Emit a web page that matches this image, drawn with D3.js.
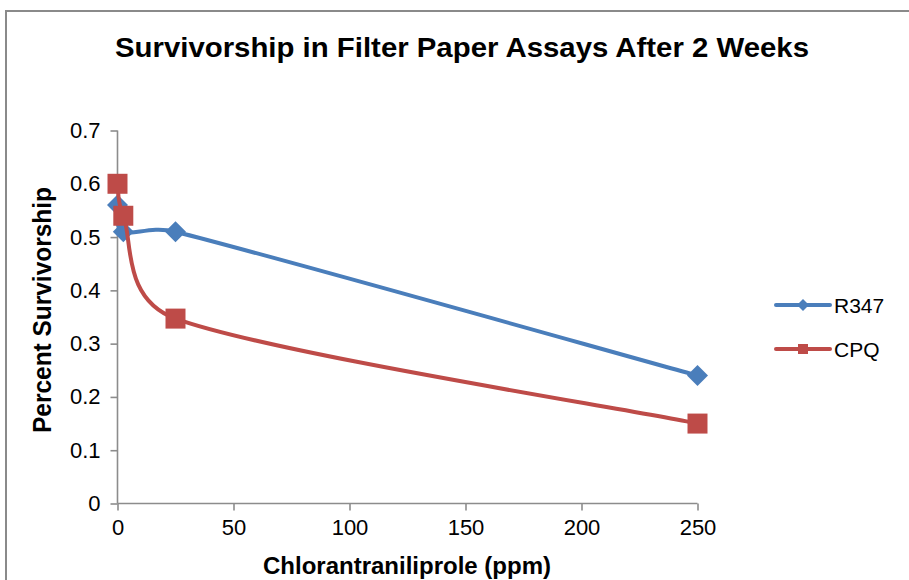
<!DOCTYPE html>
<html>
<head>
<meta charset="utf-8">
<script src="https://cdn.jsdelivr.net/npm/d3@7"></script>
<style>
  html, body { margin: 0; padding: 0; background: #fff; }
  svg { display: block; font-family: Arial, "Liberation Sans", sans-serif; }
</style>
</head>
<body>
<svg id="chart" width="909" height="580"></svg>
<script>
// Chlorantraniliprole dose (ppm) and survivorship per strain
const doses = [0, 2.5, 25, 250];
const r347 = [0.56, 0.51, 0.51, 0.24];
const cpq = [0.60, 0.54, 0.347, 0.15];
const seriesNames = ["R347", "CPQ"];
const seriesColors = ["#4A7EBB", "#BE4B48"];
const xTicks = [0, 50, 100, 150, 200, 250];
const yTicks = [0, 0.1, 0.2, 0.3, 0.4, 0.5, 0.6, 0.7];

const titleText = "Survivorship in Filter Paper Assays After 2 Weeks";
const xLabel = "Chlorantraniliprole (ppm)";
const yLabel = "Percent Survivorship";

// Smoothed line: cubic Bezier through every point, tangent from the
// neighbouring points (1/6 tension) with handles capped at half a segment.
function smoothCurve(context) {
  let pts = [];
  return {
    areaStart() {}, areaEnd() {},
    lineStart() { pts = []; },
    point(x, y) { pts.push([+x, +y]); },
    lineEnd() {
      const n = pts.length;
      if (!n) return;
      context.moveTo(pts[0][0], pts[0][1]);
      if (n === 1) return;
      const dist = (a, b) => Math.hypot(b[0] - a[0], b[1] - a[1]);
      const handle = (i, sign, segLen) => {
        const prev = pts[Math.max(0, i - 1)];
        const next = pts[Math.min(n - 1, i + 1)];
        let hx = (next[0] - prev[0]) / 6, hy = (next[1] - prev[1]) / 6;
        const len = Math.hypot(hx, hy), cap = segLen * 0.5;
        if (len > cap && len > 0) { hx *= cap / len; hy *= cap / len; }
        return [pts[i][0] + sign * hx, pts[i][1] + sign * hy];
      };
      for (let i = 0; i < n - 1; i++) {
        const seg = dist(pts[i], pts[i + 1]);
        const c1 = handle(i, 1, seg);
        const c2 = handle(i + 1, -1, seg);
        context.bezierCurveTo(c1[0], c1[1], c2[0], c2[1], pts[i + 1][0], pts[i + 1][1]);
      }
    }
  };
}

const svg = d3.select("#chart");

// outer chart frame
svg.append("path")
  .attr("d", "M6,580 V11 H909")
  .attr("fill", "none")
  .attr("stroke", "#8a8a8a")
  .attr("stroke-width", 2);

const x = d3.scaleLinear().domain([0, 250]).range([117.5, 697.5]);
const y = d3.scaleLinear().domain([0, 0.7]).range([503.5, 130.5]);

const axisColor = "#8c8c8c";

const gx = svg.append("g")
  .attr("transform", `translate(0,${y(0)})`)
  .call(d3.axisBottom(x).tickValues(xTicks).tickSize(7).tickSizeOuter(0).tickPadding(9)
    .tickFormat(d3.format("d")));
const gy = svg.append("g")
  .attr("transform", `translate(${x(0)},0)`)
  .call(d3.axisLeft(y).tickValues(yTicks).tickSize(7).tickSizeOuter(0).tickPadding(10)
    .tickFormat(d => d === 0 ? "0" : d3.format(".1f")(d)));

[gx, gy].forEach(g => {
  g.select(".domain").attr("stroke", axisColor).attr("stroke-width", 1.6);
  g.selectAll(".tick line").attr("stroke", axisColor).attr("stroke-width", 1.6);
  g.selectAll(".tick text")
    .attr("fill", "#000")
    .attr("font-size", 22)
    .attr("font-family", "Arial, 'Liberation Sans', sans-serif");
});
// axis lines span only the plotted range
gy.select(".domain").attr("d", `M0,${y(0.7)}V${y(0)}`);
gx.select(".domain").attr("d", `M${x(0)},0H${x(250)}`);

// titles
svg.append("text")
  .attr("x", 462).attr("y", 57)
  .attr("text-anchor", "middle")
  .attr("font-size", 28).attr("font-weight", "bold")
  .attr("textLength", 694).attr("lengthAdjust", "spacingAndGlyphs")
  .text(titleText);

svg.append("text")
  .attr("x", 407).attr("y", 574)
  .attr("text-anchor", "middle")
  .attr("font-size", 23).attr("font-weight", "bold")
  .attr("textLength", 288).attr("lengthAdjust", "spacingAndGlyphs")
  .text(xLabel);

svg.append("text")
  .attr("transform", "translate(51,310) rotate(-90)")
  .attr("text-anchor", "middle")
  .attr("font-size", 25).attr("font-weight", "bold")
  .attr("textLength", 246).attr("lengthAdjust", "spacingAndGlyphs")
  .text(yLabel);

// series
const line = d3.line()
  .x(d => x(d[0]))
  .y(d => y(d[1]))
  .curve(smoothCurve);

const diamond = s => `M0,${-s}L${s},0L0,${s}L${-s},0Z`;
const square = s => `M${-s},${-s}H${s}V${s}H${-s}Z`;
const markers = [diamond, square];
const markerSize = [10.5, 10];
const legendMarker = [6, 5];

[r347, cpq].forEach((vals, i) => {
  const pts = doses.map((d, j) => [d, vals[j]]);
  const g = svg.append("g");
  g.append("path")
    .attr("d", line(pts))
    .attr("fill", "none")
    .attr("stroke", seriesColors[i])
    .attr("stroke-width", 4)
    .attr("stroke-linecap", "round");
  g.selectAll("path.mk")
    .data(pts)
    .join("path")
    .attr("class", "mk")
    .attr("transform", d => `translate(${x(d[0])},${y(d[1])})`)
    .attr("d", markers[i](markerSize[i]))
    .attr("fill", seriesColors[i]);
});

// legend
const legend = svg.append("g");
seriesNames.forEach((name, i) => {
  const ly = 305 + i * 44;
  legend.append("line")
    .attr("x1", 776).attr("x2", 830)
    .attr("y1", ly).attr("y2", ly)
    .attr("stroke", seriesColors[i]).attr("stroke-width", 4)
    .attr("stroke-linecap", "round");
  legend.append("path")
    .attr("transform", `translate(803,${ly})`)
    .attr("d", markers[i](legendMarker[i]))
    .attr("fill", seriesColors[i]);
  legend.append("text")
    .attr("x", 834).attr("y", ly + 8)
    .attr("font-size", 21)
    .text(name);
});
</script>
</body>
</html>
